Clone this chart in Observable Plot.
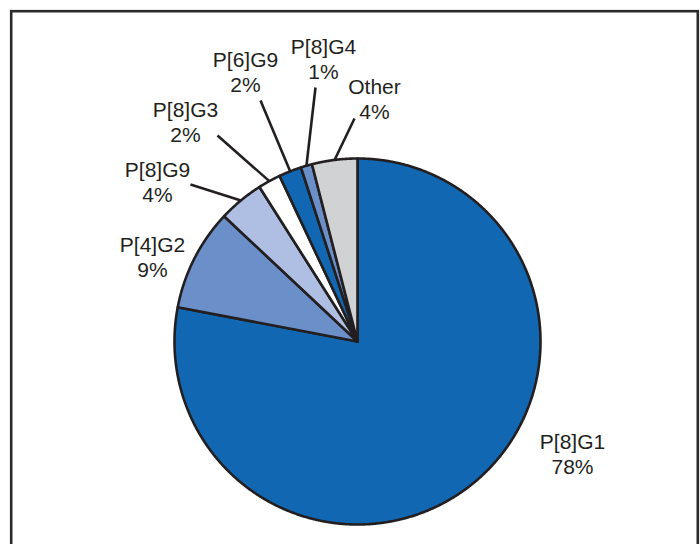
<!DOCTYPE html>
<html><head><meta charset="utf-8">
<script src="https://cdn.jsdelivr.net/npm/d3@7"></script>
<script src="https://cdn.jsdelivr.net/npm/@observablehq/plot@0.6"></script>
<style>html,body{margin:0;padding:0;background:#fff;overflow:hidden}</style>
</head><body><div id="chart"></div>
<script>
// ---- data ----
const categories = ["P[8]G1", "P[4]G2", "P[8]G9", "P[8]G3", "P[6]G9", "P[8]G4", "Other"];
const shares = [78, 9, 4, 2, 2, 1, 4];
const sliceColors = ["#1167b1", "#6b8fc9", "#aebfe3", "#ffffff", "#1167b1", "#6b8fc9", "#d1d2d4"];

// ---- layout ----
const W = 700, H = 544, CX = 357, CY = 341, R = 183;
const labelPos = [[572, 453], [152, 256], [157, 181], [185, 121], [245, 71], [323, 58], [374, 98]];
const leaderEnd = [null, null, [190, 184], [217, 135], [260, 100], [315, 87], [354, 118]];
const ink = "#231f20";

const arcs = d3.pie().sort(null).value(d => d)(shares);

function polar(a, r) { return {x: CX + r * Math.sin(a), y: CY - r * Math.cos(a)}; }

const sliceMarks = arcs.map((a, i) => {
  const pts = [{x: CX, y: CY}];
  const n = Math.max(4, Math.ceil((a.endAngle - a.startAngle) / (Math.PI / 720)));
  for (let k = 0; k <= n; k++) {
    pts.push(polar(a.startAngle + (a.endAngle - a.startAngle) * k / n, R));
  }
  pts.push({x: CX, y: CY});
  return Plot.line(pts, {x: "x", y: "y", fill: sliceColors[i], stroke: ink, strokeWidth: 2.6, strokeLinejoin: "round", curve: "linear"});
});

const leaders = [];
arcs.forEach((a, i) => {
  if (!leaderEnd[i]) return;
  const p = polar((a.startAngle + a.endAngle) / 2, R);
  leaders.push({x1: p.x, y1: p.y, x2: leaderEnd[i][0], y2: leaderEnd[i][1]});
});

const labels = categories.map((c, i) => ({x: labelPos[i][0], y: labelPos[i][1], text: `${c}\n${shares[i]}%`}));

const chart = Plot.plot({
  width: W, height: H, margin: 0,
  x: {domain: [0, W], range: [0, W], axis: null},
  y: {domain: [0, H], range: [0, H], axis: null},
  style: {background: "#fff", overflow: "hidden"},
  marks: [
    Plot.rect([0], {x1: 11.2, x2: 697.8, y1: 11.2, y2: H + 20, fill: "none", stroke: "#2a2a2a", strokeWidth: 2.6}),
    ...sliceMarks,
    Plot.link(leaders, {x1: "x1", y1: "y1", x2: "x2", y2: "y2", stroke: ink, strokeWidth: 2.6, strokeLinecap: "butt"}),
    Plot.text(labels, {x: "x", y: "y", text: "text", fontSize: 21, lineHeight: 1.2, fill: ink,
      fontFamily: "'Liberation Sans', Arial, Helvetica, sans-serif", textAnchor: "middle", lineAnchor: "middle"})
  ]
});
document.getElementById("chart").appendChild(chart);
</script>
</body></html>
